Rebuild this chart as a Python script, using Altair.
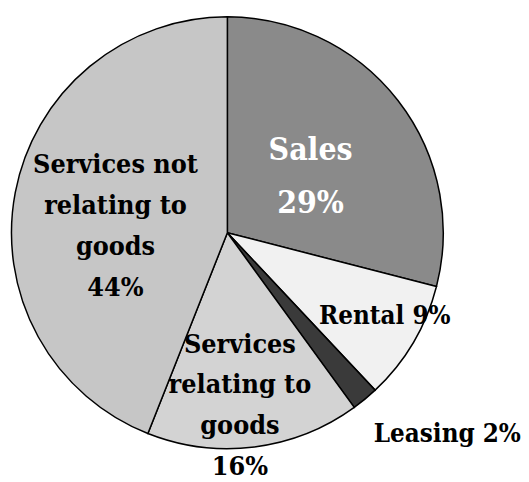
import altair as alt
import pandas as pd

categories = ["Sales", "Rental", "Leasing", "Services relating to goods", "Services not relating to goods"]
shares = [29, 9, 2, 16, 44]
label_lines = [
    ["Sales", "29%"],
    ["Rental 9%"],
    ["Leasing 2%"],
    ["Services", "relating to", "goods", "16%"],
    ["Services not", "relating to", "goods", "44%"],
]
fills = ["#8a8a8a", "#f1f1f1", "#3a3a3a", "#d3d3d3", "#c6c6c6"]

df = pd.DataFrame({
    "category": categories,
    "share": shares,
    "order": list(range(len(categories))),
    "label": ["\n".join(lines) for lines in label_lines],
})

FONT = "DejaVu Serif Condensed, DejaVu Serif"

base = alt.Chart(df).encode(
    theta=alt.Theta("share:Q", stack=True, scale=alt.Scale(domain=[0, 100])),
    order=alt.Order("order:Q"),
)

pie = base.mark_arc(radius=218, stroke="black", strokeWidth=1.5).encode(
    color=alt.Color("category:N", scale=alt.Scale(domain=categories, range=fills), legend=None)
)

# per-label styling: radius, dx, dy, font size, line height, colour
label_style = {
    "Sales": dict(radius=100, dx=5, dy=-12, fontSize=32, lineHeight=53, color="white"),
    "Rental": dict(radius=180, dx=4, dy=1, fontSize=26, lineHeight=34, color="black"),
    "Leasing": dict(radius=270, dx=50, dy=3, fontSize=26, lineHeight=34, color="black"),
    "Services relating to goods": dict(radius=125, dx=-3, dy=-3, fontSize=27, lineHeight=41.3, color="black"),
    "Services not relating to goods": dict(radius=115, dx=0, dy=-39, fontSize=27, lineHeight=41.5, color="black"),
}

layers = [pie]
for cat in categories:
    s = label_style[cat]
    layers.append(
        base.transform_calculate(show=f"datum.category == '{cat}'")
        .mark_text(
            radius=s["radius"], dx=s["dx"], dy=s["dy"], fontSize=s["fontSize"],
            lineHeight=s["lineHeight"], color=s["color"], font=FONT, fontWeight="bold",
            align="center", baseline="alphabetic", lineBreak="\n",
        )
        .encode(text=alt.condition("datum.show", alt.Text("label:N"), alt.value("")))
    )

chart = alt.layer(*layers).properties(
    width=439, height=449, padding=0
).configure_view(stroke=None).configure(background="white")

chart.save("out.html", embed_options={"renderer": "svg", "actions": False})
